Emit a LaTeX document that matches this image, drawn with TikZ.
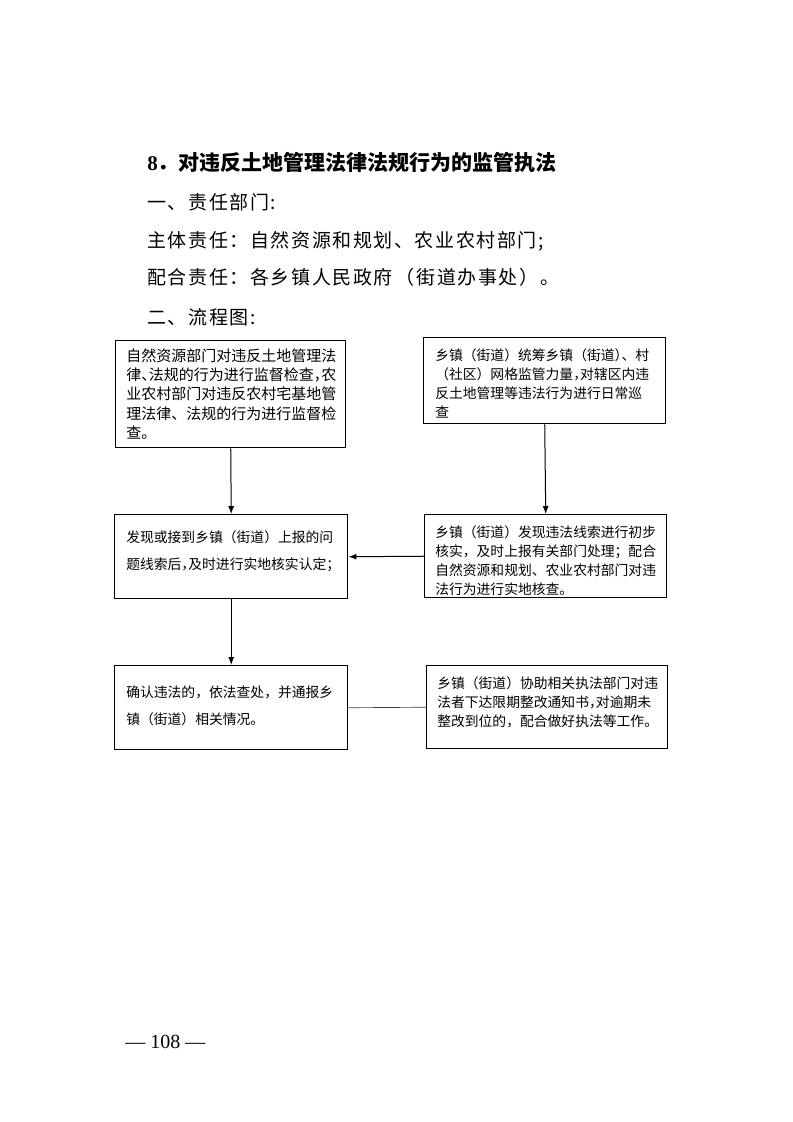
\documentclass[tikz,border=0pt]{standalone}
\usepackage{fontspec}
\setmainfont{Liberation Serif}
\newfontfamily\cjk{Noto Sans CJK SC}
\newfontfamily\cjkbody[LetterSpace=8.4]{Noto Sans CJK SC}
\usetikzlibrary{arrows.meta,positioning}
% half-width punctuation
\newcommand\banjiao[1]{#1\kern-0.5em}

\begin{document}
\begin{tikzpicture}[x=0.75pt,y=-0.75pt,
    kuang/.style={draw,line width=1.1pt,inner sep=0pt,anchor=north west},
    neirong/.style={inner sep=0pt,align=left,font=\cjk\fontsize{10.35pt}{14.25pt}\selectfont},
    hang/.style={inner sep=0pt,anchor=west,font=\cjkbody\fontsize{14.25pt}{18pt}\selectfont},
    jiantou/.style={line width=0.75pt,-{Latex[length=6pt,width=4.5pt]}}]
  \useasboundingbox (0,0) rectangle (793,1122);

  % heading lines
  \node[hang,font=\cjk\bfseries\fontsize{15.75pt}{18pt}\selectfont] (biaoti) at (147,163) {{\rmfamily 8}．对违反土地管理法律法规行为的监管执法};
  \node[hang] (zeren) at (147,202) {一、责任部门:};
  \node[hang] (zhuti) at (147,241) {主体责任：自然资源和规划、农业农村部门;};
  \node[hang] (peihe) at (147,277) {配合责任：各乡镇人民政府\,（街道办事处）。};
  \node[hang] (liucheng) at (147,317) {二、流程图:};

  % frames
  \node[kuang,minimum width=172.5pt,minimum height=80.25pt] (jiancha) at (115,340) {};
  \node[kuang,minimum width=181.5pt,minimum height=64.5pt] (xuncha) at (423,337) {};
  \node[kuang,minimum width=174.75pt,minimum height=63pt] (rending) at (114,514) {};
  \node[kuang,minimum width=181.5pt,minimum height=62.25pt] (hecha) at (424,514) {};
  \node[kuang,minimum width=174.75pt,minimum height=63pt] (chachu) at (114,665) {};
  \node[kuang,minimum width=180.75pt,minimum height=62.25pt] (xiezhu) at (426,665) {};

  % texts in the frames
  \node[neirong,font=\cjk\fontsize{11.25pt}{14.5pt}\selectfont,below right=6.2pt and 8.25pt of jiancha.north west] (jiancha-t)
    {自然资源部门对违反土地管理法\\律\banjiao{、}法规的行为进行监督检查\banjiao{，}农\\业农村部门对违反农村宅基地管\\理法律、法规的行为进行监督检\\查。};
  \node[neirong,below right=8.85pt and 9pt of xuncha.north west] (xuncha-t)
    {乡镇（街道）统筹乡镇（街道\banjiao{）}、村\\（社区）网格监管力量\banjiao{，}对辖区内违\\反土地管理等违法行为进行日常巡\\查};
  \node[neirong,font=\cjk\fontsize{10.35pt}{19.9pt}\selectfont,below right=12.6pt and 9pt of rending.north west] (rending-t)
    {发现或接到乡镇（街道）上报的问\\题线索后\banjiao{，}及时进行实地核实认定；};
  \node[neirong,below right=8.85pt and 8.25pt of hecha.north west] (hecha-t)
    {乡镇（街道）发现违法线索进行初步\\核实，及时上报有关部门处理；配合\\自然资源和规划、农业农村部门对违\\法行为进行实地核查。};
  \node[neirong,font=\cjk\fontsize{10.35pt}{20.25pt}\selectfont,below right=15.6pt and 9pt of chachu.north west] (chachu-t)
    {确认违法的，依法查处，并通报乡\\镇（街道）相关情况。};
  \node[neirong,below right=8.85pt and 8.25pt of xiezhu.north west] (xiezhu-t)
    {乡镇（街道）协助相关执法部门对违\\法者下达限期整改通知书\banjiao{，}对逾期未\\整改到位的，配合做好执法等工作。};

  % connectors
  \draw[jiantou] (jiancha.south) -- (rending.north);
  \draw[jiantou] (xuncha.south) -- (hecha.north);
  \draw[jiantou] (hecha.west) -- (rending.east);
  \draw[jiantou] (rending.south) -- (chachu.north);
  \draw[line width=0.5pt,black!75] (chachu.east) -- (xiezhu.west);

  % page number
  \node[inner sep=0pt,anchor=west,font=\fontsize{15pt}{17pt}\selectfont] (yema) at (125,1042) {— 108 —};
\end{tikzpicture}
\end{document}
